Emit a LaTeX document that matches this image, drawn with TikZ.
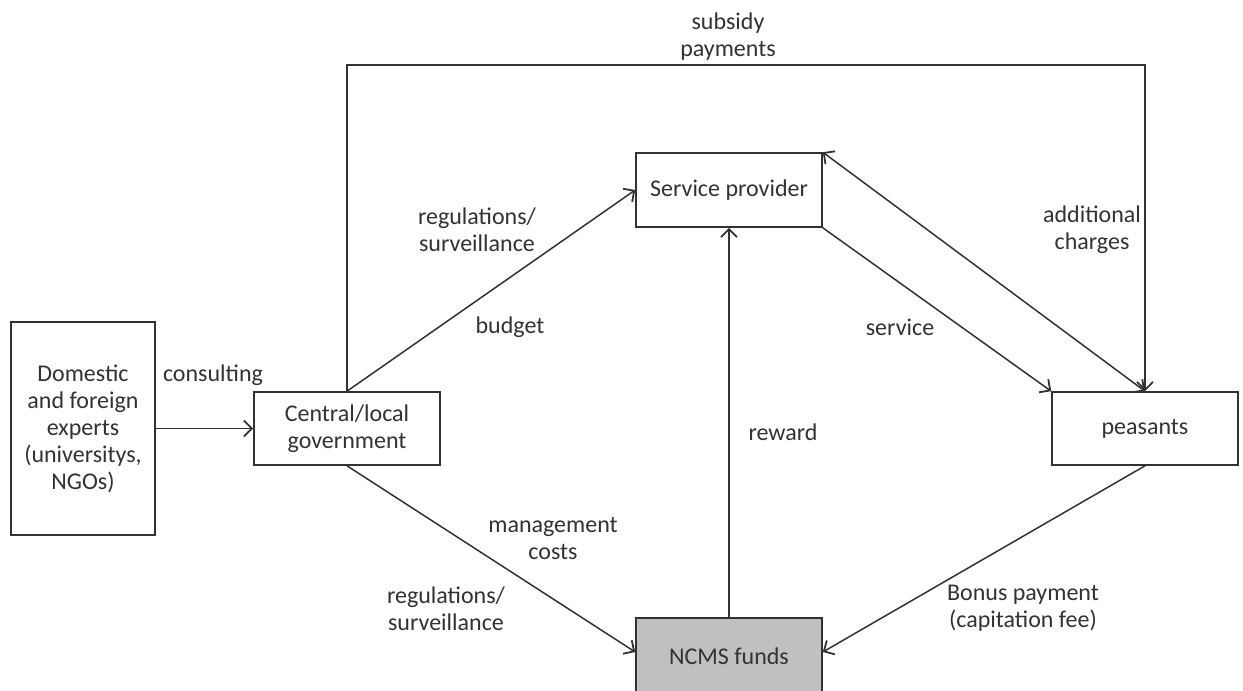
\documentclass[tikz,border=0pt]{standalone}
\usepackage{fontspec}
\setmainfont{Carlito}
\usetikzlibrary{arrows.meta}
\definecolor{ink}{RGB}{50,50,50}
\definecolor{fundfill}{RGB}{192,192,192}
\begin{document}
\begin{tikzpicture}[x=1pt,y=-1pt,
  every node/.style={font=\fontsize{24}{27}\selectfont, text=ink, align=center},
  box/.style={draw=ink, line width=1.6pt, minimum width=186pt, minimum height=73pt, inner sep=0pt},
  lbl/.style={inner sep=0pt},
  tip/.tip={Straight Barb[length=8pt,width=16pt,line width=1.8pt]},
  arr/.style={draw=ink, line width=1.5pt, -tip},
  barr/.style={draw=ink, line width=1.5pt, tip-tip}
]
\useasboundingbox (0,0) rectangle (1243,691);

% boxes
\node[box, minimum width=144pt, minimum height=213pt] (experts) at (83,428.5)
  {Domestic\\and foreign\\experts\\(universitys,\\NGOs)};
\node[box] (gov) at (347,428.5) {Central/local\\government};
\node[box, minimum height=74pt] (sp) at (729,190) {Service provider};
\node[box] (peas) at (1145,428.5) {peasants};
\node[box, fill=fundfill, minimum height=76pt] (ncms) at (729,656) {\raisebox{-4pt}{NCMS funds}};

% connectors
\draw[arr] (experts.east) -- (gov.west);
\draw[arr] (gov.north) -- (sp.west);
\draw[arr] (gov.north) -- (gov.north |- 0,65) -| (peas.north);
\draw[barr] (sp.north east) -- (peas.north);
\draw[arr] (sp.south east) -- (peas.north west);
\draw[arr] (ncms.north) -- (sp.south);
\draw[arr] (gov.south) -- ([yshift=4pt]ncms.west);
\draw[arr] (peas.south) -- ([yshift=4pt]ncms.east);

% labels
\node[lbl] (lconsult) at (213,375) {consulting};
\node[lbl] (lreg1) at (477,229.5) {regulations/\\surveillance};
\node[lbl] (lbudget) at (510,327) {budget};
\node[lbl] (lsubsidy) at (728,36.5) {subsidy\\payments};
\node[lbl] (laddl) at (1092,230) {additional\\charges};
\node[lbl] (lservice) at (900,327) {service};
\node[lbl] (lreward) at (783,432) {reward};
\node[lbl] (lmgmt) at (553,538) {management\\costs};
\node[lbl] (lreg2) at (446,609) {regulations/\\surveillance};
\node[lbl] (lbonus) at (1023,608.5) {Bonus payment\\(capitation fee)};
\end{tikzpicture}
\end{document}
